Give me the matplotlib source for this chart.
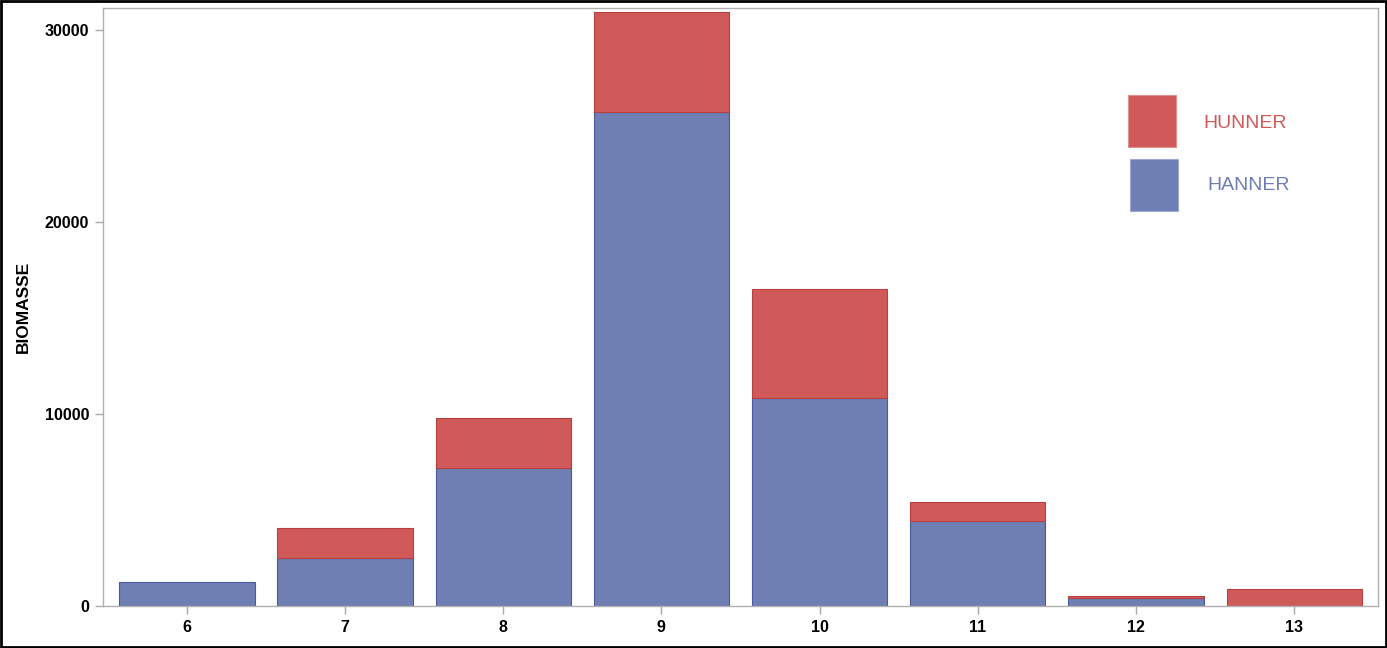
import matplotlib
matplotlib.use("Agg")
import matplotlib.pyplot as plt
from matplotlib.patches import Rectangle
import numpy as np

plt.rcParams['font.family'] = ['Liberation Sans', 'DejaVu Sans']

categories = [6, 7, 8, 9, 10, 11, 12, 13]
hanner = [1265, 2500, 7200, 25750, 10850, 4440, 400, 0]
hunner = [0, 1570, 2610, 5190, 5660, 990, 105, 900]

red = "#D05A5A"
red_edge = "#B84040"
blue = "#6F7EB3"
blue_edge = "#4A5AA0"

fig = plt.figure(figsize=(13.87, 6.48), dpi=100)
ax = fig.add_axes([0.0743, 0.0648, 0.9192, 0.9229])

x = np.array(categories)
ax.bar(x, hanner, width=0.855, color=blue,
       edgecolor=[blue_edge if v > 0 else "none" for v in hanner], linewidth=0.8)
ax.bar(x, hunner, width=0.855, bottom=hanner, color=red,
       edgecolor=[red_edge if v > 0 else "none" for v in hunner], linewidth=0.8)

ax.set_xlim(5.47, 13.53)
ax.set_ylim(0, 31150)
ax.set_xticks(categories)
ax.set_xticklabels([str(c) for c in categories])
ax.set_yticks([0, 10000, 20000, 30000])
for lab in ax.get_xticklabels() + ax.get_yticklabels():
    lab.set_fontweight("bold")
    lab.set_fontsize(11.5)
ax.tick_params(axis="both", colors="#AAAAAA", length=6, width=1, labelcolor="black", pad=4)
for s in ax.spines.values():
    s.set_color("#B0B0B0")
    s.set_linewidth(1)
ax.set_ylabel("BIOMASSE", fontsize=12.5, fontweight="bold")
ax.yaxis.set_label_coords(-0.057, 0.5)

# legend
legend_labels = ["HUNNER", "HANNER"]
W, H = 1387, 648
def fx(px):
    return px / W
def fy(py):
    return 1 - py / H
fig.patches.append(Rectangle((fx(1128), fy(147)), fx(1176) - fx(1128), fy(95) - fy(147),
                             transform=fig.transFigure, facecolor=red, edgecolor="#E09090", linewidth=0.8))
fig.patches.append(Rectangle((fx(1130), fy(211)), fx(1178) - fx(1130), fy(159) - fy(211),
                             transform=fig.transFigure, facecolor=blue, edgecolor="#A0AAD0", linewidth=0.8))
fig.text(fx(1245), fy(124), legend_labels[0], color=red, fontsize=14, ha="center", va="center")
fig.text(fx(1249), fy(186), legend_labels[1], color=blue, fontsize=14, ha="center", va="center")

fig.patches.append(Rectangle((0.0007, 0.0015), 0.9986, 0.997, transform=fig.transFigure,
                             fill=False, edgecolor="black", linewidth=2))

fig.savefig("out.png", dpi=100)
